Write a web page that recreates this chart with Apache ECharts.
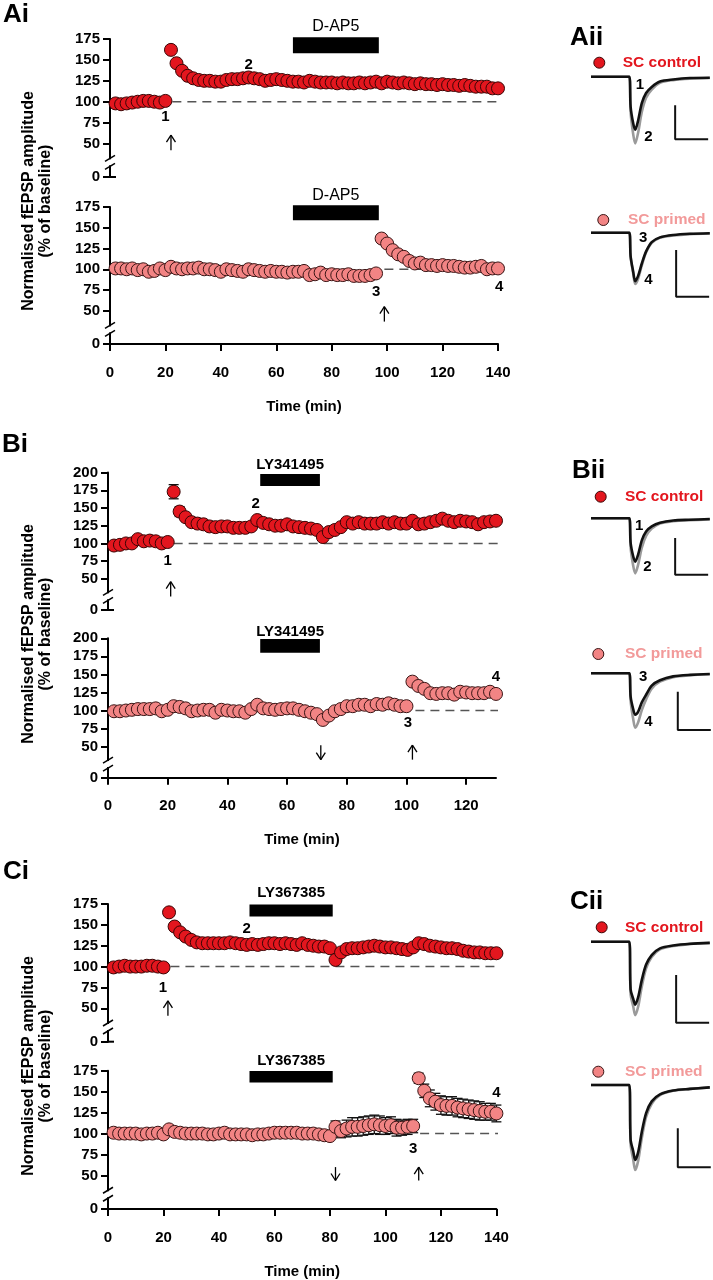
<!DOCTYPE html>
<html>
<head>
<meta charset="UTF-8">
<title>Priming of SC LTP</title>
<script src="https://cdn.jsdelivr.net/npm/echarts@6.0.0/dist/echarts.min.js"></script>
<style>html,body{margin:0;padding:0;background:#fff;}</style>
</head>
<body>
<div id="main" style="width:713px;height:1280px;"></div>
<script>
// sweep times (min), one point every 2 min
var time140 = [2,4,6,8,10,12,14,16,18,20,22,24,26,28,30,32,34,36,38,40,42,44,46,48,50,52,54,56,58,60,62,64,66,68,70,72,74,76,78,80,82,84,86,88,90,92,94,96,98,100,102,104,106,108,110,112,114,116,118,120,122,124,126,128,130,132,134,136,138,140];
var time130 = [2,4,6,8,10,12,14,16,18,20,22,24,26,28,30,32,34,36,38,40,42,44,46,48,50,52,54,56,58,60,62,64,66,68,70,72,74,76,78,80,82,84,86,88,90,92,94,96,98,100,102,104,106,108,110,112,114,116,118,120,122,124,126,128,130];
var ticks140 = [0, 20, 40, 60, 80, 100, 120, 140];
var ticks130 = [0, 20, 40, 60, 80, 100, 120];

// normalised fEPSP amplitude (% of baseline)
var aControl = [98,97,98,99,100,101,101,100,99,101,
  162,146,137,131,128,126,125,125,124,124,
  126,127,127,128,129,128,127,125,126,127,
  126,125,124,124,123,125,124,123,123,123,
  122,123,122,122,123,122,123,124,122,124,
  123,122,123,122,121,122,121,121,120,121,
  120,120,119,120,119,118,118,118,116,116];
var aPrimed = [101,101,100,101,99,100,97,98,101,99,
  103,101,100,101,101,102,100,100,99,97,
  100,99,98,97,100,99,98,97,98,97,
  97,96,97,97,98,93,94,96,93,94,
  93,93,94,92,92,92,93,95,
  137,131,123,118,115,110,107,108,105,105,104,105,104,104,103,102,102,103,104,100,101,101];
var bControl = [97,98,100,100,106,103,104,103,100,102,
  173,145,137,130,128,127,124,123,124,124,
  122,122,122,124,133,129,127,125,125,127,
  124,123,122,121,119,109,116,119,123,130,
  128,130,128,128,128,130,128,130,128,128,
  132,127,128,130,132,135,132,130,132,131,
  130,127,130,131,132];
var bPrimed = [99,99,100,101,102,102,102,103,99,101,
  106,105,103,99,100,101,101,97,101,100,
  99,99,97,102,108,103,102,101,102,103,
  103,101,99,97,95,87,93,99,102,106,
  106,108,108,106,109,108,110,108,106,106,
  140,134,130,124,123,124,124,122,126,125,
  124,124,124,126,123];
var cControl = [99,100,101,100,100,100,101,101,100,99,
  165,148,141,136,132,129,128,128,128,128,
  128,129,128,127,126,127,126,127,128,128,
  127,128,127,126,128,126,125,124,124,122,
  108,117,121,122,122,123,124,125,124,123,
  123,122,121,120,123,128,127,125,124,123,
  122,122,121,119,118,117,117,116,116,116];
var cPrimed = [101,100,100,100,100,99,100,100,101,99,
  105,102,101,100,100,100,100,99,99,100,
  101,99,99,99,99,98,99,99,100,101,
  101,101,101,101,100,100,100,99,98,97,
  108,103,106,108,108,109,110,111,110,109,
  110,107,107,108,109,166,151,142,138,134,
  133,133,131,130,129,128,127,126,126,124];

// visible SEM bars: [time, sem]
var aControlSem = [[22, 4]];
var bControlSem = [[22, 10], [24, 7]];
var cPrimedSem = [[82,7],[84,8],[86,10],[88,11],[90,11],[92,11],[94,11],[96,11],[98,11],[100,10],[102,10],[104,10],[106,9],[108,9],[110,8],
  [112,6],[114,8],[116,10],[118,10],[120,11],[122,11],[124,11],[126,11],[128,11],[130,11],[132,11],[134,11],[136,10],[138,10],[140,10]];

// example fEPSP sweeps (ms, mV); black = before, grey = after
var traceMs = [0, 11.6, 12.0, 12.8, 13.4, 14.3, 15.4, 16.7, 18.4, 20.9, 24.9, 30, 36];
var aSweep1 = [0, 0, -0.44, -0.69, -0.78, -0.64, -0.39, -0.24, -0.15, -0.07, -0.04, -0.02, -0.015];
var aSweep2 = [0, 0, -0.52, -0.85, -0.98, -0.82, -0.52, -0.31, -0.19, -0.09, -0.05, -0.03, -0.02];
var aSweep3 = [0, 0, -0.25, -0.42, -0.52, -0.46, -0.33, -0.2, -0.1, -0.05, -0.025, -0.012, -0.006];
var aSweep4 = [0, 0, -0.26, -0.44, -0.55, -0.49, -0.35, -0.21, -0.11, -0.055, -0.03, -0.015, -0.008];
var bSweep1 = [0, 0, -0.33, -0.52, -0.59, -0.49, -0.3, -0.18, -0.11, -0.06, -0.03, -0.02, -0.01];
var bSweep2 = [0, 0, -0.4, -0.65, -0.75, -0.63, -0.4, -0.24, -0.14, -0.07, -0.04, -0.025, -0.015];
var bSweep3 = [0, 0, -0.3, -0.47, -0.54, -0.5, -0.38, -0.28, -0.16, -0.09, -0.04, -0.02, -0.01];
var bSweep4 = [0, 0, -0.36, -0.6, -0.71, -0.64, -0.48, -0.34, -0.2, -0.11, -0.05, -0.025, -0.012];
var cSweep1 = [0, 0, -0.5, -0.6, -0.66, -0.58, -0.4, -0.24, -0.14, -0.07, -0.04, -0.022, -0.012];
var cSweep2 = [0, 0, -0.55, -0.68, -0.77, -0.68, -0.47, -0.28, -0.16, -0.08, -0.045, -0.025, -0.014];
var cSweep3 = [0, 0, -0.7, -0.85, -0.96, -0.86, -0.6, -0.36, -0.21, -0.12, -0.07, -0.05, -0.03];
var cSweep4 = [0, 0, -0.76, -0.96, -1.09, -0.97, -0.68, -0.41, -0.24, -0.13, -0.075, -0.05, -0.03];
var scaleMv = 0.5, scaleMs = 10;

var FONT = 'Liberation Sans';
var RED = '#e3161e', PINK = '#f28484', PINK_TXT = '#f29a9a';

// layout of the six time-course plots
var plots = [
  {grid: {left: 110, top: 39, width: 388, height: 138}, xMax: 140, xTicks: ticks140, v0: 10, yMax: 175, time: time140, vals: aControl, sem: aControlSem, color: RED, border: '#3a0505', dash: [22.5, 142], bottom: false,
   notes: [['1', 20, 82], ['2', 50, 144]], arrows: [[22, 42, 60, 'up']], drug: ['D-AP5', 66, 97, 158, 177, 190, 'normal']},
  {grid: {left: 110, top: 207, width: 388, height: 137}, xMax: 140, xTicks: ticks140, v0: 10, yMax: 175, time: time140, vals: aPrimed, sem: [], color: PINK, border: '#3a1515', dash: [99, 142], bottom: true,
   notes: [['3', 96, 73], ['4', 140.4, 79]], arrows: [[99, 37, 55, 'up']], drug: ['D-AP5', 66, 97, 159, 177, 189, 'normal']},
  {grid: {left: 108, top: 472.6, width: 388, height: 137.4}, xMax: 130, xTicks: ticks130, v0: 6, yMax: 200, time: time130, vals: bControl, sem: bControlSem, color: RED, border: '#3a0505', dash: [22, 131.5], bottom: false,
   notes: [['1', 20, 76], ['2', 49.5, 156]], arrows: [[21, 25, 46, 'up']], drug: ['LY341495', 51, 71, 181, 198, 211, 'bold']},
  {grid: {left: 108, top: 638.3, width: 388, height: 139.4}, xMax: 130, xTicks: ticks130, v0: 7, yMax: 200, time: time130, vals: bPrimed, sem: [], color: PINK, border: '#3a1515', dash: [103, 131], bottom: true,
   notes: [['3', 100.5, 83], ['4', 130, 147]], arrows: [[71.3, 32, 52, 'down'], [102, 32, 52, 'up']], drug: ['LY341495', 51, 71, 180, 199, 209, 'bold']},
  {grid: {left: 108, top: 904, width: 388.4, height: 137.7}, xMax: 140, xTicks: ticks140, v0: 10, yMax: 175, time: time140, vals: cControl, sem: [], color: RED, border: '#3a0505', dash: [22.5, 142], bottom: false,
   notes: [['1', 19.8, 75], ['2', 50, 145]], arrows: [[21.6, 41, 59, 'up']], drug: ['LY367385', 51, 81, 160, 174.5, 188, 'bold']},
  {grid: {left: 108, top: 1070.7, width: 388.4, height: 138.3}, xMax: 140, xTicks: ticks140, v0: 10, yMax: 175, time: time140, vals: cPrimed, sem: cPrimedSem, color: PINK, border: '#3a1515', dash: [112.5, 142], bottom: true,
   notes: [['3', 110, 82], ['4', 140, 148]], arrows: [[82, 44, 60, 'down'], [112, 44, 60, 'up']], drug: ['LY367385', 51, 81, 161, 174.5, 187, 'bold']}
];

// layout of the six sweep insets
var sweeps = [
  {base: 76.7, ppm: 68, before: aSweep1, after: aSweep2, bar: [25.5, -0.92], labels: [['1', 14.8, -0.12], ['2', 17.4, -0.88]]},
  {base: 232.7, ppm: 93.4, before: aSweep3, after: aSweep4, bar: [25.8, -0.685], labels: [['3', 15.8, -0.06], ['4', 17.4, -0.5]]},
  {base: 518.3, ppm: 73.4, before: bSweep1, after: bSweep2, bar: [25.5, -0.77], labels: [['1', 14.6, -0.1], ['2', 17.1, -0.66]]},
  {base: 673.3, ppm: 76.6, before: bSweep3, after: bSweep4, bar: [26.3, -0.74], labels: [['3', 15.8, -0.05], ['4', 17.4, -0.63]]},
  {base: 941.7, ppm: 95.4, before: cSweep1, after: cSweep2, bar: [25.8, -0.85], labels: []},
  {base: 1085, ppm: 78, before: cSweep3, after: cSweep4, bar: [26.3, -1.055], labels: []}
];

var chart = echarts.init(document.getElementById('main'));
var grids = [], xAxes = [], yAxes = [], series = [];

function zip(a, b) {
  var out = [];
  for (var i = 0; i < a.length; i++) out.push([a[i], b[i]]);
  return out;
}

plots.forEach(function (p, i) {
  grids.push(p.grid);
  var ticks = [p.v0];
  for (var v = 50; v <= p.yMax; v += 25) ticks.push(v);
  var v0 = p.v0;
  xAxes.push({
    gridIndex: i, type: 'value', min: 0, max: p.xMax, show: p.bottom,
    axisLine: {lineStyle: {color: '#000', width: 2}},
    axisTick: {length: 7, customValues: p.xTicks, lineStyle: {color: '#000', width: 2}},
    axisLabel: {customValues: p.xTicks, color: '#000', fontFamily: FONT, fontWeight: 'bold', fontSize: 15, margin: 21},
    splitLine: {show: false},
    name: p.bottom ? 'Time (min)' : '', nameLocation: 'middle', nameGap: 55,
    nameTextStyle: {color: '#000', fontFamily: FONT, fontWeight: 'bold', fontSize: 15}
  });
  yAxes.push({
    gridIndex: i, type: 'value', min: p.v0, max: p.yMax,
    axisLine: {show: true, lineStyle: {color: '#000', width: 2}},
    axisTick: {show: true, length: 7, customValues: ticks, lineStyle: {color: '#000', width: 2}},
    axisLabel: {customValues: ticks, color: '#000', fontFamily: FONT, fontWeight: 'bold', fontSize: 15, margin: 10,
      formatter: function (val) { return val === v0 ? '0' : String(val); }},
    splitLine: {show: false}
  });
  series.push({
    type: 'line', xAxisIndex: i, yAxisIndex: i, data: [[p.dash[0], 100], [p.dash[1], 100]],
    symbol: 'none', clip: false, silent: true, z: 1,
    lineStyle: {color: '#555', width: 1.5, type: [9, 6]}
  });
  if (p.sem.length) {
    var semData = p.sem.map(function (s) {
      return [s[0], p.vals[p.time.indexOf(s[0])], s[1]];
    });
    series.push({
      type: 'custom', xAxisIndex: i, yAxisIndex: i, data: semData, z: 2, silent: true,
      renderItem: function (params, api) {
        var t = api.value(0), m = api.value(1), s = api.value(2);
        var hi = api.coord([t, m + s]), lo = api.coord([t, m - s]);
        var st = {stroke: '#111', lineWidth: 1.3};
        return {type: 'group', children: [
          {type: 'line', shape: {x1: hi[0], y1: hi[1], x2: lo[0], y2: lo[1]}, style: st},
          {type: 'line', shape: {x1: hi[0] - 5, y1: hi[1], x2: hi[0] + 5, y2: hi[1]}, style: st},
          {type: 'line', shape: {x1: lo[0] - 5, y1: lo[1], x2: lo[0] + 5, y2: lo[1]}, style: st}
        ]};
      }
    });
  }
  series.push({
    type: 'scatter', xAxisIndex: i, yAxisIndex: i, data: zip(p.time, p.vals),
    symbol: 'circle', symbolSize: 13, z: 3,
    itemStyle: {color: p.color, borderColor: p.border, borderWidth: 1, opacity: 1}
  });
});

sweeps.forEach(function (s, j) {
  var gi = plots.length + j;
  grids.push({left: 591, width: 118.8, top: s.base - 0.2 * s.ppm, height: 1.5 * s.ppm});
  xAxes.push({gridIndex: gi, type: 'value', min: 0, max: 36, show: false});
  yAxes.push({gridIndex: gi, type: 'value', min: -1.3, max: 0.2, show: false});
  series.push({type: 'line', xAxisIndex: gi, yAxisIndex: gi, data: zip(traceMs, s.after), symbol: 'none', smooth: 0.3,
    lineStyle: {color: '#9a9a9a', width: 2.6}, z: 2, silent: true});
  series.push({type: 'line', xAxisIndex: gi, yAxisIndex: gi, data: zip(traceMs, s.before), symbol: 'none', smooth: 0.3,
    lineStyle: {color: '#111', width: 2.6}, z: 3, silent: true});
  series.push({type: 'line', xAxisIndex: gi, yAxisIndex: gi, symbol: 'none', silent: true, clip: false,
    data: [[s.bar[0], s.bar[1] + scaleMv], [s.bar[0], s.bar[1]], [s.bar[0] + scaleMs, s.bar[1]]],
    lineStyle: {color: '#111', width: 2}});
});

chart.setOption({
  animation: false,
  backgroundColor: '#fff',
  grid: grids, xAxis: xAxes, yAxis: yAxes, series: series
});

// annotations placed through the plot scales
var g = [];
function txt(x, y, s, size, weight, color, align, rot) {
  g.push({type: 'text', x: x, y: y, rotation: rot || 0, z: 10, silent: true,
    style: {text: s, fill: color || '#000', fontFamily: FONT, fontSize: size, fontWeight: weight || 'bold',
      align: align || 'center', verticalAlign: 'middle', textAlign: align || 'center', textVerticalAlign: 'middle'}});
}
function seg(x1, y1, x2, y2, w, color) {
  g.push({type: 'line', z: 10, silent: true, shape: {x1: x1, y1: y1, x2: x2, y2: y2}, style: {stroke: color || '#000', lineWidth: w || 1.2}});
}

plots.forEach(function (p, i) {
  function pt(t, v) { return chart.convertToPixel({gridIndex: i}, [t, v]); }
  p.notes.forEach(function (n) { var q = pt(n[1], n[2]); txt(q[0], q[1], n[0], 15); });
  p.arrows.forEach(function (a) {
    var lo = pt(a[0], a[1]), hi = pt(a[0], a[2]);
    seg(lo[0], lo[1], hi[0], hi[1], 1.3);
    if (a[3] === 'up') {
      seg(hi[0] - 4.5, hi[1] + 7, hi[0], hi[1], 1.3); seg(hi[0] + 4.5, hi[1] + 7, hi[0], hi[1], 1.3);
    } else {
      seg(lo[0] - 4.5, lo[1] - 7, lo[0], lo[1], 1.3); seg(lo[0] + 4.5, lo[1] - 7, lo[0], lo[1], 1.3);
    }
  });
  var d = p.drug, b1 = pt(d[1], d[4]), b2 = pt(d[2], d[3]);
  g.push({type: 'rect', z: 10, silent: true, shape: {x: b1[0], y: b1[1], width: b2[0] - b1[0], height: b2[1] - b1[1]}, style: {fill: '#000'}});
  var lb = pt((d[1] + d[2]) / 2, d[5]);
  txt(lb[0], lb[1], d[0], d[6] === 'bold' ? 15 : 16, d[6]);
  // axis break
  var yb = pt(0, 50 - 0.56 * (50 - p.v0)), ax = yb[0], yc = yb[1];
  g.push({type: 'rect', z: 10, silent: true, shape: {x: ax - 3, y: yc - 3, width: 6, height: 6}, style: {fill: '#fff'}});
  seg(ax - 5, yc - 1, ax + 5, yc - 7, 1.5);
  seg(ax - 5, yc + 7, ax + 5, yc + 1, 1.5);
  if (!p.bottom) {
    var z0 = pt(0, p.v0);
    seg(z0[0] - 1, z0[1], z0[0] + 6, z0[1], 2);
  }
});

sweeps.forEach(function (s, j) {
  var gi = plots.length + j;
  s.labels.forEach(function (l) {
    var q = chart.convertToPixel({gridIndex: gi}, [l[1], l[2]]);
    txt(q[0], q[1], l[0], 15);
  });
});

// panel letters
txt(3, 15, 'Ai', 26, 'bold', '#000', 'left');
txt(570, 38, 'Aii', 26, 'bold', '#000', 'left');
txt(2, 445, 'Bi', 26, 'bold', '#000', 'left');
txt(572, 471, 'Bii', 26, 'bold', '#000', 'left');
txt(3, 872, 'Ci', 26, 'bold', '#000', 'left');
txt(570, 902, 'Cii', 26, 'bold', '#000', 'left');

// y titles
[201, 634, 1066].forEach(function (cy) {
  txt(29, cy, 'Normalised fEPSP amplitude', 16, 'bold', '#000', 'center', Math.PI / 2);
  txt(46, cy, '(% of baseline)', 16, 'bold', '#000', 'center', Math.PI / 2);
});

// legend keys
var keys = [
  [599.3, 62.7, 622.7, 'SC control', RED, '#3a0505', RED],
  [603.3, 220, 628, 'SC primed', PINK, '#3a1515', PINK_TXT],
  [600.7, 496.7, 625, 'SC control', RED, '#3a0505', RED],
  [598.3, 654, 625, 'SC primed', PINK, '#3a1515', PINK_TXT],
  [601.7, 927.3, 625, 'SC control', RED, '#3a0505', RED],
  [598.3, 1071.7, 625, 'SC primed', PINK, '#3a1515', PINK_TXT]
];
keys.forEach(function (k) {
  g.push({type: 'circle', z: 10, silent: true, shape: {cx: k[0], cy: k[1], r: 5.5}, style: {fill: k[4], stroke: k[5], lineWidth: 1}});
  txt(k[2], k[1], k[3], 15.5, 'bold', k[6], 'left');
});

chart.setOption({graphic: {elements: g}});
</script>
</body>
</html>
